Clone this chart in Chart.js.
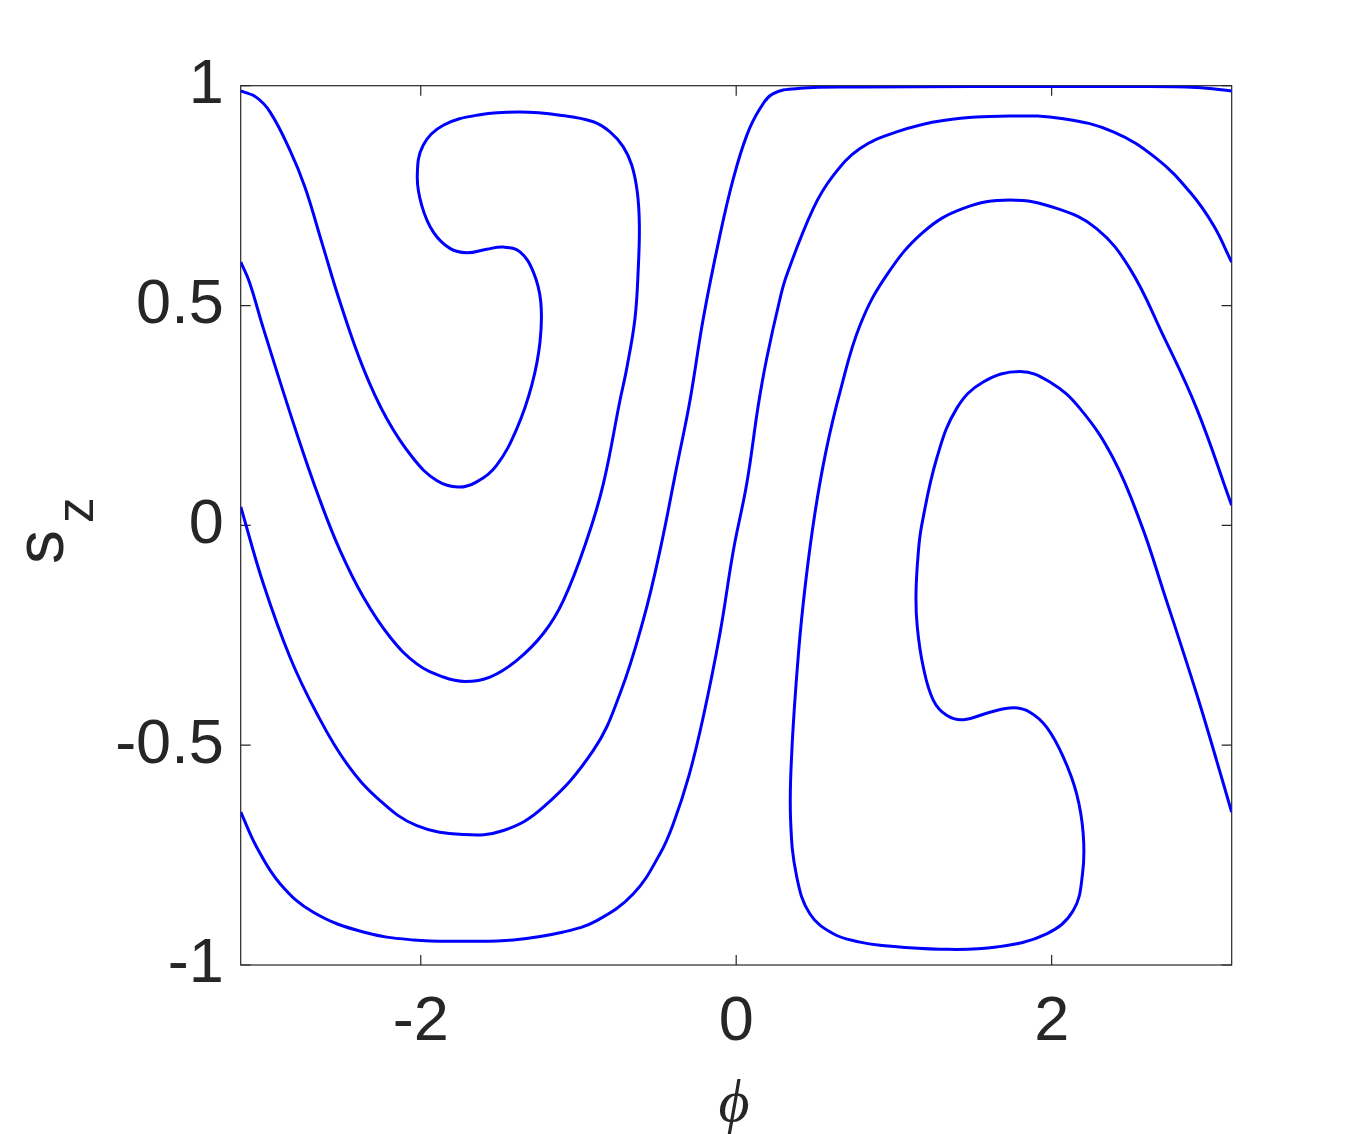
<!DOCTYPE html>
<html>
<head>
<meta charset="utf-8">
<script src="https://cdn.jsdelivr.net/npm/chart.js@4"></script>
<style>
  html, body { margin: 0; padding: 0; background: #fff; }
  #wrap { width: 1360px; height: 1134px; }
</style>
</head>
<body>
<div id="wrap"><canvas id="phaseChart" width="1360" height="1134"></canvas></div>
<script>
// tick positions
const phiTicks = [-2, 0, 2];
const szTicks = [-1, -0.5, 0, 0.5, 1];

// trajectory 1: starts at (-pi, 0.6), hooks round the left spiral, ends at (-pi, 0.99)
const curve1Phi = [-3.141, -3.086, -2.998, -2.786, -2.639, -2.512, -2.364, -2.195, -2.025, -1.857,
  -1.719, -1.561, -1.391, -1.223, -1.096, -0.948, -0.842, -0.737, -0.694, -0.642,
  -0.621, -0.614, -0.627, -0.662, -0.716, -0.800, -0.906, -1.117, -1.371, -1.624,
  -1.857, -1.984, -2.022, -1.994, -1.920, -1.815, -1.708, -1.582, -1.476, -1.371,
  -1.286, -1.239, -1.244, -1.296, -1.391, -1.518, -1.645, -1.762, -1.899, -2.047,
  -2.216, -2.364, -2.512, -2.626, -2.734, -2.829, -2.955, -3.044, -3.141];
const curve1Sz = [0.599, 0.553, 0.448, 0.209, 0.057, -0.057, -0.163, -0.254, -0.315, -0.345,
  -0.355, -0.345, -0.307, -0.246, -0.171, -0.034, 0.095, 0.284, 0.357, 0.470,
  0.584, 0.683, 0.758, 0.819, 0.861, 0.895, 0.918, 0.933, 0.940, 0.934,
  0.910, 0.865, 0.796, 0.728, 0.667, 0.630, 0.620, 0.628, 0.633, 0.622,
  0.576, 0.508, 0.417, 0.319, 0.220, 0.137, 0.099, 0.087, 0.102, 0.152,
  0.243, 0.357, 0.508, 0.642, 0.769, 0.853, 0.940, 0.974, 0.988];

// trajectory 2: (-pi, 0.04) -> along the top -> (pi, 0.99)
const curve2Phi = [-3.141, -2.998, -2.829, -2.659, -2.469, -2.258, -2.025, -1.730, -1.476, -1.223,
  -0.906, -0.737, -0.589, -0.483, -0.377, -0.293, -0.209, -0.103, -0.018,
  0.067, 0.151, 0.235, 0.404, 0.785, 1.500, 2.500, 2.919, 3.141];
const curve2Sz = [0.042, -0.133, -0.300, -0.428, -0.542, -0.626, -0.683, -0.703, -0.694, -0.641,
  -0.512, -0.383, -0.215, -0.057, 0.133, 0.284, 0.470, 0.660, 0.789,
  0.887, 0.948, 0.982, 0.994, 0.997, 0.998, 0.998, 0.996, 0.988];

// trajectory 3: (-pi, -0.65) -> through the origin -> (pi, 0.6)
const curve3Phi = [-3.141, -3.040, -2.892, -2.681, -2.364, -2.047, -1.719, -1.413, -1.096, -0.884,
  -0.652, -0.483, -0.400, -0.300, -0.209, -0.103, -0.018, 0.067, 0.140, 0.193,
  0.278, 0.320, 0.489, 0.616, 0.785, 1.017, 1.313, 1.736, 2.074, 2.391,
  2.666, 2.877, 3.025, 3.141];
const curve3Sz = [-0.652, -0.732, -0.815, -0.880, -0.925, -0.943, -0.946, -0.943, -0.925, -0.899,
  -0.838, -0.747, -0.680, -0.570, -0.436, -0.246, -0.057, 0.095, 0.273, 0.379,
  0.516, 0.569, 0.721, 0.796, 0.857, 0.895, 0.921, 0.931, 0.925, 0.895,
  0.834, 0.758, 0.683, 0.599];

// trajectory 4: (pi, 0.05) -> right spiral -> (pi, -0.65)
const curve4Phi = [3.141, 2.919, 2.707, 2.496, 2.285, 2.032, 1.736, 1.440, 1.186, 0.954,
  0.785, 0.658, 0.570, 0.500, 0.440, 0.395, 0.352, 0.345, 0.384, 0.468, 0.616,
  0.785, 0.911, 1.292, 1.651, 1.968, 2.137, 2.196, 2.200, 2.158, 2.074,
  1.968, 1.862, 1.757, 1.609, 1.440, 1.334, 1.250, 1.186, 1.148, 1.140,
  1.155, 1.176, 1.271, 1.398, 1.566, 1.799, 1.989, 2.179, 2.391, 2.570,
  2.707, 2.919, 3.046, 3.141];
const curve4Sz = [0.046, 0.266, 0.432, 0.584, 0.675, 0.721, 0.740, 0.721, 0.667, 0.569,
  0.455, 0.303, 0.170, 0.030, -0.130, -0.290, -0.519, -0.671, -0.800, -0.884, -0.929,
  -0.948, -0.955, -0.964, -0.959, -0.929, -0.876, -0.792, -0.701, -0.610, -0.527,
  -0.459, -0.425, -0.415, -0.425, -0.442, -0.432, -0.398, -0.322, -0.231, -0.155,
  -0.060, 0.000, 0.152, 0.266, 0.326, 0.350, 0.326, 0.266, 0.152, 0.000,
  -0.148, -0.383, -0.535, -0.652];

const curves = [
  [curve1Phi, curve1Sz],
  [curve2Phi, curve2Sz],
  [curve3Phi, curve3Sz],
  [curve4Phi, curve4Sz],
];

const ink = '#262626';

// MATLAB style box with inward ticks, plus the axis labels
const frame = {
  id: 'frame',
  beforeDatasetsDraw(chart) {
    const { ctx, chartArea: a, scales: { x, y } } = chart;
    ctx.save();
    ctx.strokeStyle = ink;
    ctx.lineWidth = 1.2;
    ctx.strokeRect(a.left, a.top, a.right - a.left, a.bottom - a.top);
    ctx.beginPath();
    phiTicks.forEach(v => {
      const px = x.getPixelForValue(v);
      ctx.moveTo(px, a.bottom); ctx.lineTo(px, a.bottom - 10);
      ctx.moveTo(px, a.top); ctx.lineTo(px, a.top + 10);
    });
    szTicks.forEach(v => {
      const py = y.getPixelForValue(v);
      ctx.moveTo(a.left, py); ctx.lineTo(a.left + 10, py);
      ctx.moveTo(a.right, py); ctx.lineTo(a.right - 10, py);
    });
    ctx.stroke();
    ctx.restore();
  },
  afterDraw(chart) {
    const { ctx } = chart;
    ctx.save();
    ctx.fillStyle = ink;
    // x label: phi
    ctx.font = 'italic 60px "Liberation Serif", "DejaVu Serif", serif';
    ctx.textAlign = 'center';
    ctx.textBaseline = 'alphabetic';
    ctx.fillText('\u03D5', 734, 1121);
    // y label: s_z, rotated
    ctx.translate(62.7, 564);
    ctx.rotate(-Math.PI / 2);
    ctx.textAlign = 'left';
    ctx.font = '68px "Liberation Sans", Arial, sans-serif';
    ctx.fillText('s', 0, 0);
    ctx.font = '51px "Liberation Sans", Arial, sans-serif';
    ctx.fillText('z', 41, 30.6);
    ctx.restore();
  }
};

new Chart(document.getElementById('phaseChart'), {
  type: 'scatter',
  data: {
    datasets: curves.map(([px, sz]) => ({
      data: px.map((v, i) => ({ x: v, y: sz[i] })),
      showLine: true,
      borderColor: '#0000ff',
      borderWidth: 3,
      pointRadius: 0,
      tension: 0.4,
      fill: false,
    })),
  },
  options: {
    responsive: false,
    animation: false,
    layout: { padding: { top: 85.7, right: 128.3, left: 0, bottom: 0 } },
    plugins: { legend: { display: false }, tooltip: { enabled: false } },
    scales: {
      x: {
        type: 'linear',
        min: -Math.PI,
        max: Math.PI,
        afterBuildTicks: s => { s.ticks = phiTicks.map(v => ({ value: v })); },
        afterFit: s => { s.height = 169; },
        grid: { display: false, drawTicks: false },
        border: { display: false },
        ticks: {
          autoSkip: false,
          maxRotation: 0,
          padding: 20,
          color: ink,
          font: { family: '"Liberation Sans", Arial, sans-serif', size: 63 },
          callback: v => String(v),
        },
      },
      y: {
        type: 'linear',
        min: -1,
        max: 1,
        afterBuildTicks: s => { s.ticks = szTicks.map(v => ({ value: v })); },
        afterFit: s => { s.width = 240.7; },
        grid: { display: false, drawTicks: false },
        border: { display: false },
        ticks: {
          autoSkip: false,
          padding: 17,
          color: ink,
          font: { family: '"Liberation Sans", Arial, sans-serif', size: 63 },
          callback: v => String(v),
        },
      },
    },
  },
  plugins: [frame],
});
</script>
</body>
</html>
